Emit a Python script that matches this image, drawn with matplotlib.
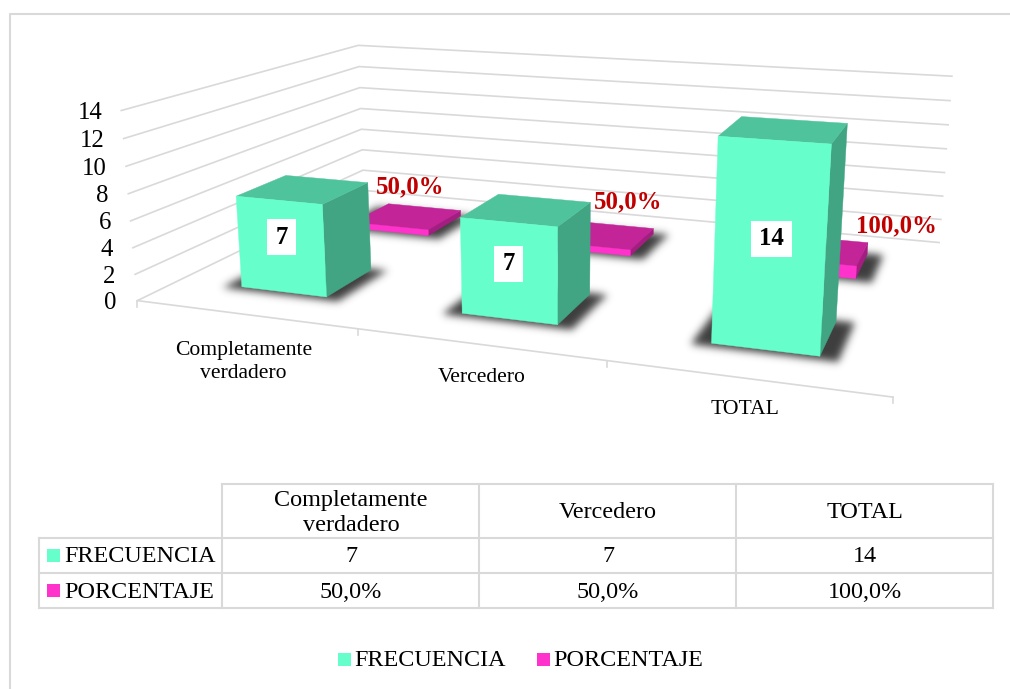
import numpy as np, matplotlib
matplotlib.use('Agg')
import matplotlib.pyplot as plt
from matplotlib.patches import Polygon, Rectangle
from matplotlib.path import Path

categories = ['Completamente\nverdadero', 'Vercedero', 'TOTAL']
series_names = ['FRECUENCIA', 'PORCENTAJE']
frecuencia = [7, 7, 14]
porcentaje = [0.5, 0.5, 1.0]
frecuencia_labels = ['7', '7', '14']
porcentaje_labels = ['50,0%', '50,0%', '100,0%']
z_ticks = [0, 2, 4, 6, 8, 10, 12, 14]

plt.rcParams['font.family'] = ['Liberation Serif', 'DejaVu Sans']
GRID = '#D9D9D9'
TEAL = ('#66FFCC', '#4FC39C', '#41A584')
PINK = ('#FF33CC', '#C32599', '#A31E80')

# camera calibration: (category, depth, value) -> pixel position
cal = [((0,0,0),(137,301)),((0,0,14),(121.5,110.5)),((3,0,0),(893,397)),((0,1,14),(358,45.5)),
       ((0,1,0),(364,190)),((3,1,14),(952,76)),((3,1,0),(939,243)),((1,0,0),(358,329)),((2,0,0),(607,360))]
A, b = [], []
for (x,d,z),(u,v) in cal:
    A.append([x,d,z,1,0,0,0,0,-u*x,-u*d,-u*z]); b.append(u)
    A.append([0,0,0,0,x,d,z,1,-v*x,-v*d,-v*z]); b.append(v)
P = np.append(np.linalg.lstsq(np.array(A,float),np.array(b,float),rcond=None)[0],1).reshape(3,4)
def proj(x,d,z):
    q = P @ np.array([x,d,z,1.0])
    return q[0]/q[2], q[1]/q[2]

fig = plt.figure(figsize=(10.1,6.89),dpi=100)
ax = fig.add_axes([0,0,1,1])
ax.axis('off')

# chart frame
ax.plot([10,10,1010],[689,14,14],color=GRID,lw=1.5,solid_capstyle='butt')

# walls, floor, ticks
for z in z_ticks:
    pts = [proj(0,0,z),proj(0,1,z),proj(3,1,z)]
    ax.plot(*zip(*pts),color=GRID,lw=1.2,solid_joinstyle='miter',zorder=1)
    xt,yt = proj(0,0,z)
    ax.text(xt-19-(14-z)*0.1,yt+2.5,str(z),ha='right',va='center',fontsize=17.8,color='#000000',zorder=6)
ax.plot(*zip(proj(0,0,0),proj(3,0,0)),color=GRID,lw=1.2,zorder=1)
for i in range(4):
    xt,yt = proj(i,0,0)
    ax.plot([xt,xt],[yt,yt+6],color=GRID,lw=1.2,zorder=1)

X0,X1 = 0.304,0.704
DEPTH = [(0.152,0.352),(0.648,0.842)]
SHIFT = [[-0.004,0.0,0.006],[0.0,0.0,0.004]]

def blur(m,sigma):
    r = int(3*sigma)
    k = np.exp(-0.5*(np.arange(-r,r+1)/sigma)**2); k /= k.sum()
    m = np.apply_along_axis(lambda a: np.convolve(a,k,mode='same'),0,m)
    return np.apply_along_axis(lambda a: np.convolve(a,k,mode='same'),1,m)

def shadow(x,d0,d1,z):
    ex,ef,eb = 0.07,0.018,0.008
    pts = np.array([proj(x+X0-ex,d0-ef,0),proj(x+X1+ex,d0-ef,0),proj(x+X1+ex,d1+eb,0),proj(x+X0-ex,d1+eb,0)])
    x0,y0 = np.floor(pts.min(axis=0)-20).astype(int)
    x1,y1 = np.ceil(pts.max(axis=0)+20).astype(int)
    gx,gy = np.meshgrid(np.arange(x0,x1)+.5,np.arange(y0,y1)+.5)
    m = Path(pts).contains_points(np.c_[gx.ravel(),gy.ravel()]).reshape(gx.shape).astype(float)
    m = blur(m,4.0)
    rgba = np.zeros(m.shape+(4,)); rgba[...,:3] = 0.2; rgba[...,3] = 0.95*m
    ax.imshow(rgba,extent=(x0,x1,y1,y0),aspect='auto',interpolation='bilinear',zorder=z)

def bar(x,d0,d1,val,cols,z):
    x0,x1 = x+X0,x+X1
    side = [proj(x1,d0,0),proj(x1,d1,0),proj(x1,d1,val),proj(x1,d0,val)]
    top = [proj(x0,d0,val),proj(x1,d0,val),proj(x1,d1,val),proj(x0,d1,val)]
    front = [proj(x0,d0,0),proj(x1,d0,0),proj(x1,d0,val),proj(x0,d0,val)]
    for pts,c in ((side,cols[2]),(top,cols[1]),(front,cols[0])):
        ax.add_patch(Polygon(pts,closed=True,fc=c,ec=c,lw=0.3,zorder=z))

for i,v in enumerate(porcentaje):
    shadow(i+SHIFT[1][i],*DEPTH[1],2)
    bar(i+SHIFT[1][i],*DEPTH[1],v,PINK,3)
for i,v in enumerate(frecuencia):
    shadow(i+SHIFT[0][i],*DEPTH[0],4+2*i)
    bar(i+SHIFT[0][i],*DEPTH[0],v,TEAL,5+2*i)

# data labels
box_offset = [(0,-9),(-1,-7),(1,-6)]
for i,(v,s) in enumerate(zip(frecuencia,frecuencia_labels)):
    xb = i+SHIFT[0][i]
    pts = np.array([proj(xb+X0,DEPTH[0][0],0),proj(xb+X1,DEPTH[0][0],0),proj(xb+X1,DEPTH[0][0],v),proj(xb+X0,DEPTH[0][0],v)])
    cx,cy = pts.mean(axis=0); cx += box_offset[i][0]; cy += box_offset[i][1]
    w = 16+12.5*len(s)
    ax.add_patch(Rectangle((cx-w/2,cy-18),w,36,fc='white',ec='none',zorder=20))
    ax.text(cx,cy,s,ha='center',va='center',fontsize=17.8,fontweight='bold',color='black',zorder=21)
label_offset = [(2,-30),(27,-33),(81,-24)]
for i,(v,s) in enumerate(zip(porcentaje,porcentaje_labels)):
    xt,yt = proj(i+(X0+X1)/2,sum(DEPTH[1])/2,v)
    ax.text(xt+label_offset[i][0],yt+label_offset[i][1],s,ha='center',va='center',fontsize=17.8,fontweight='bold',color='#C00000',zorder=22)

# category labels
cat_pos = [(243.5,362),(481.5,377),(745,409)]
for s,(cx,cy) in zip(categories,cat_pos):
    ax.text(cx,cy,s,ha='center',va='center',fontsize=15.6,linespacing=1.3,color='black',zorder=6)

# data table
cols = [222,479,736,993]; rows = [484,537.5,573,608]; left = 39
for x in cols[1:]+[cols[0]]:
    ax.plot([x,x],[rows[0],rows[-1]],color=GRID,lw=1.5,solid_capstyle='projecting')
ax.plot([left,left],[rows[1],rows[-1]],color=GRID,lw=1.5,solid_capstyle='projecting')
ax.plot([cols[0],cols[-1]],[rows[0],rows[0]],color=GRID,lw=1.5,solid_capstyle='projecting')
for y in rows[1:]:
    ax.plot([left,cols[-1]],[y,y],color=GRID,lw=1.5,solid_capstyle='projecting')
for j,s in enumerate(categories):
    ax.text((cols[j]+cols[j+1])/2+0.5,(rows[0]+rows[1])/2+2,s,ha='center',va='center',fontsize=17.4,linespacing=1.22)
for r,(name,vals,c) in enumerate(zip(series_names,(frecuencia_labels,porcentaje_labels),(TEAL[0],PINK[0]))):
    yc = (rows[r+1]+rows[r+2])/2
    ax.add_patch(Rectangle((47,yc-6.5),13,13,fc=c,ec='none'))
    ax.text(64,yc+1.5,name,ha='left',va='center',fontsize=17.4)
    for j,s in enumerate(vals):
        ax.text((cols[j]+cols[j+1])/2+0.5,yc+1.5,s,ha='center',va='center',fontsize=17.4)

# legend
for x,c,name in zip((338,537),(TEAL[0],PINK[0]),series_names):
    ax.add_patch(Rectangle((x,653),13,13,fc=c,ec='none'))
    ax.text(x+16.5,661,name,ha='left',va='center',fontsize=17.4)

ax.set_xlim(0,1010); ax.set_ylim(689,0)
fig.savefig('out.png',dpi=100)
